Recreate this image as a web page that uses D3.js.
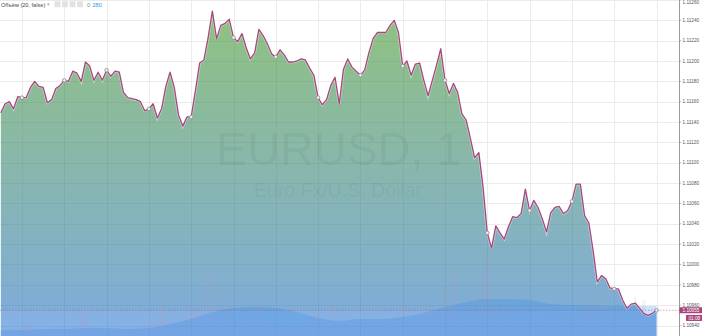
<!DOCTYPE html>
<html>
<head>
<meta charset="utf-8">
<script src="https://cdn.jsdelivr.net/npm/d3@7"></script>
<style>
  body { margin: 0; background: #fff; }
  svg { display: block; font-family: "Liberation Sans", Arial, sans-serif; }
</style>
</head>
<body>
<div id="chart"></div>
<script>
// chart size
let svgWidth = 702;
let svgHeight = 336;
let plotRight = 679;

// EURUSD 1 minute closes, one per bar
let prices = [
  1.11149, 1.11158, 1.11160, 1.11153, 1.11165, 1.11164, 1.11164, 1.11174, 1.11180, 1.11175,
  1.11174, 1.11159, 1.11162, 1.11173, 1.11176, 1.11181, 1.11180, 1.11190, 1.11188, 1.11180,
  1.11199, 1.11195, 1.11181, 1.11189, 1.11181, 1.11191, 1.11185, 1.11190, 1.11189, 1.11169,
  1.11164, 1.11163, 1.11162, 1.11160, 1.11151, 1.11153, 1.11158, 1.11144, 1.11153, 1.11175,
  1.11189, 1.11174, 1.11147, 1.11136, 1.11145, 1.11145, 1.11171, 1.11198, 1.11201, 1.11223,
  1.11249, 1.11222, 1.11235, 1.11237, 1.11241, 1.11223, 1.11219, 1.11227, 1.11213, 1.11202,
  1.11208, 1.11231, 1.11225, 1.11217, 1.11207, 1.11204, 1.11211, 1.11206, 1.11199, 1.11199,
  1.11200, 1.11202, 1.11201, 1.11193, 1.11186, 1.11164, 1.11157, 1.11162, 1.11176, 1.11184,
  1.11158, 1.11192, 1.11202, 1.11194, 1.11190, 1.11186, 1.11191, 1.11208, 1.11222, 1.11228,
  1.11228, 1.11228, 1.11235, 1.11240, 1.11228, 1.11195, 1.11200, 1.11186, 1.11197, 1.11198,
  1.11181, 1.11166, 1.11181, 1.11196, 1.11212, 1.11181, 1.11168, 1.11178, 1.11169, 1.11148,
  1.11142, 1.11124, 1.11105, 1.11110, 1.11076, 1.11031, 1.11016, 1.11038, 1.11031, 1.11025,
  1.11037, 1.11047, 1.11046, 1.11050, 1.11074, 1.11053, 1.11063, 1.11056, 1.11045, 1.11032,
  1.11051, 1.11056, 1.11057, 1.11050, 1.11053, 1.11062, 1.11079, 1.11079, 1.11048, 1.11041,
  1.11014, 1.10983, 1.10989, 1.10986, 1.10977, 1.10976, 1.10976, 1.10965, 1.10957, 1.10961,
  1.10962, 1.10957, 1.10952, 1.10950, 1.10952, 1.10955
];

// volume per bar
let volumes = [
  45, 55, 40, 65, 55, 45, 75, 130, 65, 55,
  45, 65, 55, 75, 85, 55, 65, 95, 75, 225,
  225, 85, 65, 55, 75, 55, 45, 65, 55, 75,
  65, 55, 75, 95, 85, 110, 130, 150, 315, 205,
  140, 110, 170, 130, 185, 250, 225, 315, 185, 615,
  260, 495, 205, 245, 315, 185, 170, 150, 205, 130,
  185, 280, 170, 130, 110, 150, 110, 95, 130, 110,
  95, 110, 85, 130, 170, 215, 110, 95, 130, 290,
  150, 110, 130, 95, 110, 130, 170, 150, 110, 130,
  150, 130, 110, 170, 205, 270, 150, 170, 130, 185,
  225, 290, 170, 205, 245, 450, 280, 635, 225, 185,
  245, 205, 280, 355, 570, 775, 400, 225, 260, 315,
  185, 170, 225, 150, 205, 170, 130, 185, 205, 170,
  150, 185, 130, 170, 205, 150, 185, 225, 335, 355,
  280, 410, 245, 335, 225, 185, 170, 205, 150, 185,
  365, 170, 335, 130, 185, 0
];

// volume MA (20), read every 5 bars
let maIndex = d3.range(0, 156, 5);
let maValues = [
  56, 56, 65, 65, 75, 75, 65, 75, 112, 159,
  224, 261, 271, 261, 224, 168, 140, 159, 159, 177,
  215, 271, 317, 345, 345, 336, 299, 289, 289, 280,
  280, 280
];

// price axis ticks
let priceTicks = [1.10940, 1.10960, 1.10980, 1.11000, 1.11020, 1.11040, 1.11060, 1.11080,
  1.11100, 1.11120, 1.11140, 1.11160, 1.11180, 1.11200, 1.11220, 1.11240, 1.11260];
let lastPrice = 1.10955;
let lastLabel = '01:08';

let svg = d3.select('#chart')
  .append('svg')
  .attr('width', svgWidth)
  .attr('height', svgHeight);

// scales
let xScale = d3.scaleLinear()
  .domain([0, prices.length - 1])
  .range([0.85, 656.5]);

let yScale = d3.scaleLinear()
  .domain([1.10940, 1.11240])
  .range([325.5, 20.3]);

let vScale = d3.scaleLinear()
  .domain([0, 3136])
  .range([svgHeight, 0]);

// gradient for the area
let defs = svg.append('defs');
let grad = defs.append('linearGradient')
  .attr('id', 'areaGrad')
  .attr('gradientUnits', 'userSpaceOnUse')
  .attr('x1', 0).attr('y1', 0)
  .attr('x2', 0).attr('y2', svgHeight);
grad.append('stop').attr('offset', '0%').attr('stop-color', '#8fc27d');
grad.append('stop').attr('offset', '45%').attr('stop-color', '#89b8a8');
grad.append('stop').attr('offset', '100%').attr('stop-color', '#7eabde');

let area = d3.area()
  .x((d, i) => xScale(i))
  .y0(svgHeight)
  .y1(d => yScale(d));

defs.append('clipPath')
  .attr('id', 'areaClip')
  .append('path')
  .attr('d', area(prices));

// grid
let gridGroup = svg.append('g');
gridGroup.selectAll('.hgrid')
  .data(priceTicks)
  .enter()
  .append('line')
  .attr('x1', 0)
  .attr('x2', plotRight)
  .attr('y1', d => Math.round(yScale(d)) + 0.5)
  .attr('y2', d => Math.round(yScale(d)) + 0.5)
  .attr('stroke', '#ebebeb');

gridGroup.selectAll('.vgrid')
  .data(maIndex.filter(i => i % 10 === 5))
  .enter()
  .append('line')
  .attr('x1', d => Math.round(xScale(d)) + 0.5)
  .attr('x2', d => Math.round(xScale(d)) + 0.5)
  .attr('y1', 0)
  .attr('y2', svgHeight)
  .attr('stroke', '#ebebeb');

// price area
svg.append('path')
  .attr('d', area(prices))
  .attr('fill', 'url(#areaGrad)');

// lighter band below the last price
svg.append('rect')
  .attr('x', 0)
  .attr('y', yScale(lastPrice))
  .attr('width', plotRight)
  .attr('height', svgHeight - yScale(lastPrice))
  .attr('clip-path', 'url(#areaClip)')
  .attr('fill', 'rgba(150,190,255,0.28)');

// grid again, faint, over the area
svg.append('g')
  .attr('clip-path', 'url(#areaClip)')
  .html(gridGroup.html())
  .selectAll('line')
  .attr('stroke', 'rgba(0,0,0,0.045)');

// watermark
svg.append('text')
  .attr('x', 339)
  .attr('y', 165)
  .attr('text-anchor', 'middle')
  .attr('font-size', '46px')
  .attr('fill', 'rgba(40,70,60,0.07)')
  .text('EURUSD, 1');

svg.append('text')
  .attr('x', 338)
  .attr('y', 197)
  .attr('text-anchor', 'middle')
  .attr('font-size', '19.5px')
  .attr('fill', 'rgba(40,70,60,0.07)')
  .text('Euro Fx/U.S. Dollar');

// volume bars
svg.append('g')
  .selectAll('rect')
  .data(volumes)
  .enter()
  .append('rect')
  .attr('x', (d, i) => xScale(i) - 1.5)
  .attr('width', 3)
  .attr('y', d => vScale(d))
  .attr('height', d => svgHeight - vScale(d))
  .attr('fill', 'rgba(205,150,170,0.12)');

// volume MA area
let maArea = d3.area()
  .x((d, i) => xScale(maIndex[i]))
  .y0(svgHeight)
  .y1(d => vScale(d))
  .curve(d3.curveMonotoneX);

svg.append('path')
  .attr('d', maArea(maValues))
  .attr('fill', 'rgba(40,140,240,0.24)');

// price line
let line = d3.line()
  .x((d, i) => xScale(i))
  .y(d => yScale(d));

svg.append('path')
  .attr('d', line(prices))
  .attr('fill', 'none')
  .attr('stroke', 'rgba(255,255,255,0.45)')
  .attr('stroke-width', 2.6);

svg.append('path')
  .attr('d', line(prices))
  .attr('fill', 'none')
  .attr('stroke', '#a8467f')
  .attr('stroke-width', 1.3)
  .attr('stroke-linejoin', 'round');

// markers every ten bars
svg.append('g')
  .selectAll('circle')
  .data(maIndex.filter(i => i % 10 === 5))
  .enter()
  .append('circle')
  .attr('cx', d => xScale(d))
  .attr('cy', d => yScale(prices[d]))
  .attr('r', 1.8)
  .attr('fill', '#eeeeee')
  .attr('stroke', '#8c8c8c')
  .attr('stroke-width', 0.8);

// last price dashed line
svg.append('line')
  .attr('x1', 0)
  .attr('x2', plotRight)
  .attr('y1', yScale(lastPrice))
  .attr('y2', yScale(lastPrice))
  .attr('stroke', 'rgba(168,70,127,0.6)')
  .attr('stroke-width', 0.8)
  .attr('stroke-dasharray', '1.5,1.5');

// right price axis
let axisGroup = svg.append('g');
axisGroup.append('line')
  .attr('x1', plotRight + 0.5)
  .attr('x2', plotRight + 0.5)
  .attr('y1', 0)
  .attr('y2', svgHeight)
  .attr('stroke', '#9a9a9a');

axisGroup.selectAll('.tick')
  .data(priceTicks)
  .enter()
  .append('line')
  .attr('x1', plotRight)
  .attr('x2', plotRight + 2.5)
  .attr('y1', d => yScale(d))
  .attr('y2', d => yScale(d))
  .attr('stroke', '#9a9a9a')
  .attr('stroke-width', 0.6);

// top label sits at the very edge, keep it just inside
axisGroup.selectAll('.tickLabel')
  .data(priceTicks)
  .enter()
  .append('text')
  .attr('x', plotRight + 3.5)
  .attr('y', d => Math.max(yScale(d) + 1.7, 3.6))
  .attr('font-size', '4.7px')
  .attr('fill', '#555')
  .text(d => d3.format('.5f')(d));

// last price label
axisGroup.append('rect')
  .attr('x', plotRight + 0.5)
  .attr('y', yScale(lastPrice) - 3)
  .attr('width', svgWidth - plotRight)
  .attr('height', 6)
  .attr('fill', '#a8437b');
axisGroup.append('text')
  .attr('x', plotRight + 3.5)
  .attr('y', yScale(lastPrice) + 1.7)
  .attr('font-size', '4.7px')
  .attr('fill', '#fff')
  .text(d3.format('.5f')(lastPrice));

axisGroup.append('rect')
  .attr('x', 686)
  .attr('y', yScale(lastPrice) + 4.7)
  .attr('width', svgWidth - 686)
  .attr('height', 6)
  .attr('fill', '#a8437b');
axisGroup.append('text')
  .attr('x', 688.5)
  .attr('y', yScale(lastPrice) + 9.4)
  .attr('font-size', '4.7px')
  .attr('fill', '#fff')
  .text(lastLabel);

// legend
let legend = svg.append('g');
legend.append('text')
  .attr('x', 1)
  .attr('y', 6.5)
  .attr('font-size', '5.6px')
  .attr('fill', '#4a4a4a')
  .text('Объём (20, false)');

legend.append('text')
  .attr('x', 47)
  .attr('y', 6.3)
  .attr('font-size', '5px')
  .attr('fill', '#aaa')
  .text('▾');

legend.selectAll('.btn')
  .data([54.5, 62, 69.5, 77])
  .enter()
  .append('rect')
  .attr('x', d => d)
  .attr('y', 1.2)
  .attr('width', 6)
  .attr('height', 6)
  .attr('rx', 0.8)
  .attr('fill', '#e2e2e2');

legend.append('text')
  .attr('x', 87)
  .attr('y', 6.5)
  .attr('font-size', '5.6px')
  .attr('fill', '#4cae73')
  .text(volumes[volumes.length - 1]);

legend.append('text')
  .attr('x', 92.5)
  .attr('y', 6.5)
  .attr('font-size', '5.6px')
  .attr('fill', '#2f95e8')
  .text(maValues[maValues.length - 1]);
</script>
</body>
</html>
